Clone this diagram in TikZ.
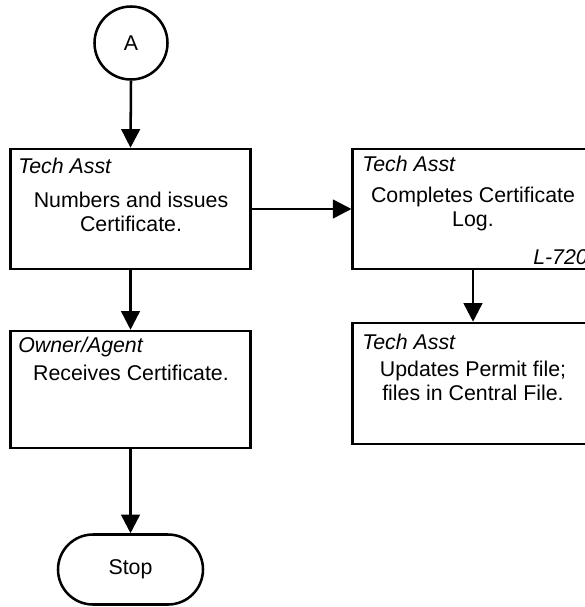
\documentclass[tikz,border=0pt]{standalone}
\usepackage{fontspec}
\setmainfont{Liberation Sans}
\usetikzlibrary{arrows.meta,shapes.misc}
\begin{document}
\begin{tikzpicture}[x=0.75pt,y=-0.75pt,
  every node/.style={font=\fontsize{16}{18.5}\selectfont},
  box/.style={draw,line width=1.9pt,rectangle,minimum width=240.5*0.75pt,inner sep=0pt},
  lbl/.style={anchor=west,inner sep=0pt,font=\fontsize{16}{18.5}\selectfont\itshape},
  txt/.style={align=center,inner sep=0pt},
  conn/.style={line width=1.9pt,-{Triangle[length=14pt,width=14pt]}}]
\useasboundingbox (0,0) rectangle (585,607);
\begin{scope}
\clip (0,0) rectangle (585,607);
% start connector
\node[draw,circle,line width=1.9pt,minimum size=73*0.75pt,inner sep=0pt] (A) at (131,43) {A};
% boxes
\node[box,minimum height=120*0.75pt] (b1) at (130.5,209) {};
\node[box,minimum height=117*0.75pt] (b2) at (130.5,389.5) {};
\node[box,minimum height=120*0.75pt] (r1) at (473,209) {};
\node[box,minimum height=121*0.75pt] (r2) at (473,383.5) {};
\node[draw,rounded rectangle,line width=1.9pt,minimum width=145*0.75pt,minimum height=70*0.75pt,inner sep=0pt] (stop) at (130.5,569.5) {Stop};
% labels
\node[lbl] (l1) at (18,166) {Tech Asst};
\node[lbl] (l2) at (18,347) {Owner/Agent};
\node[lbl] (l3) at (362,164) {Tech Asst};
\node[lbl] (l4) at (362,342) {Tech Asst};
\node[lbl] (l5) at (533,257) {L-720};
% texts
\node[txt] (t1) at (131,212) {Numbers and issues\\Certificate.};
\node[txt] (t2) at (131,373) {Receives Certificate.};
\node[txt] (t3) at (473,209) {Completes Certificate\\Log.};
\node[txt] (t4) at (473,381) {Updates Permit file;\\files in Central File.};
% connectors
\draw[conn] (A.south) -- (b1.north);
\draw[conn] (b1.south) -- (b2.north);
\draw[conn] (b2.south) -- (stop.north);
\draw[conn] (b1.east) -- (r1.west);
\draw[conn] (r1.south) -- (r2.north);
\end{scope}
\end{tikzpicture}
\end{document}
